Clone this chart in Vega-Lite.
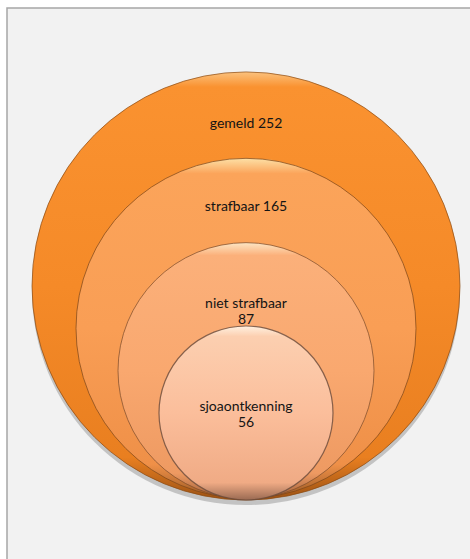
{
  "$schema": "https://vega.github.io/schema/vega-lite/v6.json",
  "autosize": {"type": "none"},
  "padding": {"left": 7, "top": 8, "right": 0, "bottom": 0},
  "width": 478,
  "height": 560,
  "background": "#ffffff",
  "config": {
    "view": {"fill": "#f2f2f2", "stroke": "#a6a6a6", "strokeWidth": 1.5},
    "axis": {"disable": true},
    "legend": {"disable": true}
  },
  "data": {
    "values": [
      {"label": "gemeld", "value": 252, "tekst": "gemeld 252"},
      {"label": "strafbaar", "value": 165, "tekst": "strafbaar 165"},
      {"label": "niet strafbaar", "value": 87, "tekst": "niet strafbaar\n87"},
      {"label": "sjoaontkenning", "value": 56, "tekst": "sjoaontkenning\n56"}
    ]
  },
  "encoding": {
    "y": {
      "field": "label",
      "type": "nominal",
      "sort": ["gemeld", "strafbaar", "niet strafbaar", "sjoaontkenning"],
      "scale": {"type": "point", "range": [278, 405], "padding": 0},
      "axis": null
    },
    "size": {"field": "label", "type": "nominal", "scale": {"type": "ordinal", "domain": ["gemeld", "strafbaar", "niet strafbaar", "sjoaontkenning"], "range": [183184, 115600, 65536, 30276]}, "legend": null}
  },
  "layer": [
    {
      "transform": [{"filter": "datum.label === 'gemeld'"}],
      "mark": {"type": "point", "shape": "circle", "filled": true, "fill": "#6e6e6e", "opacity": 0.35, "yOffset": 5, "strokeWidth": 0}
    },
    {
      "transform": [{"filter": "datum.label === 'gemeld'"}],
      "mark": {"type": "point", "shape": "circle", "filled": true, "opacity": 1, "stroke": "#8a4a12", "strokeWidth": 1, "strokeOpacity": 0.7,
        "fill": {"gradient": "linear", "x1": 0, "y1": 0, "x2": 0, "y2": 1, "stops": [
          {"offset": 0, "color": "#fbc27e"},
          {"offset": 0.035, "color": "#fa9230"},
          {"offset": 0.5, "color": "#f58a28"},
          {"offset": 0.9, "color": "#e97f20"},
          {"offset": 1, "color": "#9c5214"}
        ]}}
    },
    {
      "transform": [{"filter": "datum.label === 'strafbaar'"}],
      "mark": {"type": "point", "shape": "circle", "filled": true, "opacity": 1, "stroke": "#7a4418", "strokeWidth": 1, "strokeOpacity": 0.7,
        "fill": {"gradient": "linear", "x1": 0, "y1": 0, "x2": 0, "y2": 1, "stops": [
          {"offset": 0, "color": "#fde0a6"},
          {"offset": 0.045, "color": "#fba45a"},
          {"offset": 0.5, "color": "#f99e55"},
          {"offset": 0.9, "color": "#ef9048"},
          {"offset": 1, "color": "#9c5a24"}
        ]}}
    },
    {
      "transform": [{"filter": "datum.label === 'niet strafbaar'"}],
      "mark": {"type": "point", "shape": "circle", "filled": true, "opacity": 1, "stroke": "#7a4a2a", "strokeWidth": 1, "strokeOpacity": 0.7,
        "fill": {"gradient": "linear", "x1": 0, "y1": 0, "x2": 0, "y2": 1, "stops": [
          {"offset": 0, "color": "#fde6c4"},
          {"offset": 0.05, "color": "#fbb07a"},
          {"offset": 0.5, "color": "#f9a86f"},
          {"offset": 0.9, "color": "#ee9a62"},
          {"offset": 1, "color": "#a0603a"}
        ]}}
    },
    {
      "transform": [{"filter": "datum.label === 'sjoaontkenning'"}],
      "mark": {"type": "point", "shape": "circle", "filled": true, "opacity": 1, "stroke": "#6a4a3a", "strokeWidth": 1.2, "strokeOpacity": 0.8,
        "fill": {"gradient": "linear", "x1": 0, "y1": 0, "x2": 0, "y2": 1, "stops": [
          {"offset": 0, "color": "#fff1e0"},
          {"offset": 0.06, "color": "#fccfb0"},
          {"offset": 0.5, "color": "#fbbe9b"},
          {"offset": 0.9, "color": "#f0ab85"},
          {"offset": 1, "color": "#9a6a52"}
        ]}}
    },
    {
      "transform": [{"filter": "datum.label === 'gemeld'"}],
      "mark": {"type": "text", "font": "Lato", "fontSize": 14, "color": "#141414", "dy": -162, "lineBreak": "\n", "lineHeight": 16},
      "encoding": {"text": {"field": "tekst", "type": "nominal"}, "size": null}
    },
    {
      "transform": [{"filter": "datum.label === 'strafbaar'"}],
      "mark": {"type": "text", "font": "Lato", "fontSize": 14, "color": "#141414", "dy": -121, "lineBreak": "\n", "lineHeight": 16},
      "encoding": {"text": {"field": "tekst", "type": "nominal"}, "size": null}
    },
    {
      "transform": [{"filter": "datum.label === 'niet strafbaar'"}],
      "mark": {"type": "text", "font": "Lato", "fontSize": 14, "color": "#141414", "dy": -67, "lineBreak": "\n", "lineHeight": 16},
      "encoding": {"text": {"field": "tekst", "type": "nominal"}, "size": null}
    },
    {
      "transform": [{"filter": "datum.label === 'sjoaontkenning'"}],
      "mark": {"type": "text", "font": "Lato", "fontSize": 14, "color": "#141414", "dy": -6, "lineBreak": "\n", "lineHeight": 16},
      "encoding": {"text": {"field": "tekst", "type": "nominal"}, "size": null}
    }
  ]
}
